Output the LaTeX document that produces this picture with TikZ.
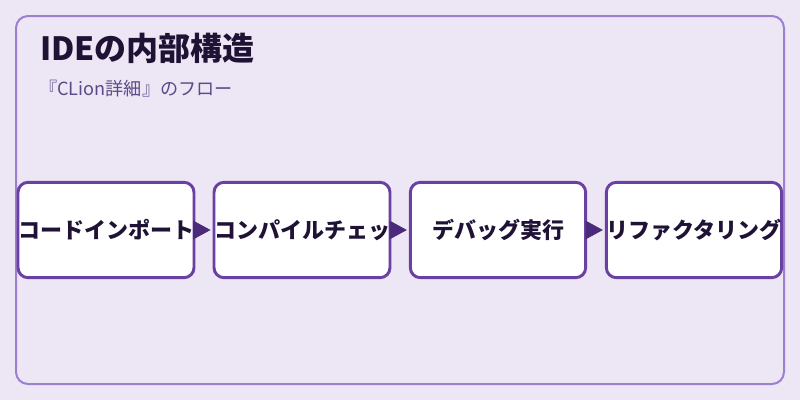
\documentclass[tikz,border=0pt]{standalone}
\usepackage{fontspec}
\setmainfont{Noto Sans CJK JP}
\usetikzlibrary{arrows.meta,positioning}
\definecolor{bgpurple}{HTML}{EDE6F5}
\definecolor{framepurple}{HTML}{9C80CE}
\definecolor{boxpurple}{HTML}{6A40A2}
\definecolor{arrowpurple}{HTML}{4B2A7C}
\definecolor{titleink}{HTML}{1F1235}
\definecolor{subink}{HTML}{5B4A87}
\begin{document}
\begin{tikzpicture}[x=0.75pt, y=-0.75pt,
  stepbox/.style={draw=boxpurple, line width=2.2pt, fill=white, rounded corners=7.5pt,
    minimum width=131.5pt, minimum height=71.5pt, inner sep=0pt,
    font=\fontsize{16.5}{18}\selectfont\bfseries, text=titleink},
  flow/.style={arrowpurple, line width=0.6pt, shorten >=1.5pt,
    -{Triangle[length=13pt, width=14pt]}}]
% Frame   {{{
\useasboundingbox (0,0) rectangle (800,400);
\fill[bgpurple] (0,0) rectangle (800,400);
\draw[framepurple, line width=1.5pt, rounded corners=9pt] (16,16) rectangle (784,384);
\node[anchor=west, font=\fontsize{24}{28}\selectfont\bfseries, text=titleink, inner sep=0pt] (title) at (40,48) {IDEの内部構造};
\node[anchor=west, font=\fontsize{13.6}{16}\selectfont, text=subink, inner sep=0pt] (subtitle) at (39,89) {『CLion詳細』のフロー};
% }}}
% Boxes   {{{
\node[stepbox] (import) at (106,230) {コードインポート};
\node[stepbox] (compile) at (302,230) {コンパイルチェッ};
\node[stepbox] (debug) at (498,230) {デバッグ実行};
\node[stepbox] (refactor) at (694,230) {リファクタリング};
% }}}
% Arrows  {{{
\draw[flow] (import) -- (compile);
\draw[flow] (compile) -- (debug);
\draw[flow] (debug) -- (refactor);
% }}}
\end{tikzpicture}
\end{document}
